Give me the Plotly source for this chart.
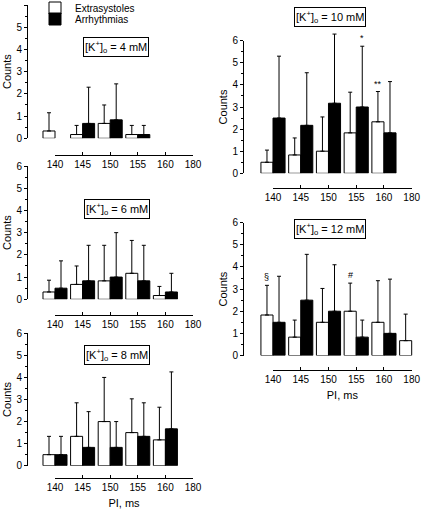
import plotly.graph_objects as go

W, H = 421, 509

cats = ["140", "145", "150", "155", "160", "180"]

k4_extra = [0.33, 0.17, 0.67, 0.17, None, None]
k4_extra_sd = [0.82, 0.41, 0.83, 0.41, None, None]
k4_arr = [None, 0.67, 0.83, 0.17, None, None]
k4_arr_sd = [None, 1.63, 1.62, 0.41, None, None]

k6_extra = [0.33, 0.67, 0.83, 1.17, 0.17, None]
k6_extra_sd = [0.53, 0.83, 1.6, 1.48, 0.41, None]
k6_arr = [0.5, 0.83, 1.0, 0.83, 0.33, None]
k6_arr_sd = [1.23, 1.6, 2.0, 1.6, 0.84, None]

k8_extra = [0.5, 1.33, 2.0, 1.5, 1.17, None]
k8_extra_sd = [0.83, 1.52, 2.0, 1.53, 1.48, None]
k8_arr = [0.5, 0.83, 0.83, 1.33, 1.67, None]
k8_arr_sd = [0.83, 1.62, 1.17, 1.52, 2.58, None]

k10_extra = [0.5, 0.83, 1.0, 1.83, 2.33, None]
k10_extra_sd = [0.55, 0.77, 1.55, 1.84, 1.37, None]
k10_arr = [2.5, 2.17, 3.17, 3.0, 1.83, None]
k10_arr_sd = [2.8, 2.38, 3.13, 2.75, 2.32, None]

k12_extra = [1.83, 0.83, 1.5, 2.0, 1.5, 0.67]
k12_extra_sd = [1.34, 0.77, 1.53, 1.27, 1.88, 1.2]
k12_arr = [1.5, 2.5, 2.0, 0.83, 1.0, None]
k12_arr_sd = [2.08, 2.07, 2.1, 0.77, 2.45, None]

conc_labels = ["4", "6", "8", "10", "12"]
# significance marks: (panel, series, category, symbol)
marks = [(3, "arr", "155", "*"), (3, "extra", "160", "**"),
         (4, "extra", "140", "§"), (4, "extra", "155", "#")]

panels = [
    (k4_extra, k4_extra_sd, k4_arr, k4_arr_sd),
    (k6_extra, k6_extra_sd, k6_arr, k6_arr_sd),
    (k8_extra, k8_extra_sd, k8_arr, k8_arr_sd),
    (k10_extra, k10_extra_sd, k10_arr, k10_arr_sd),
    (k12_extra, k12_extra_sd, k12_arr, k12_arr_sd),
]

# layout geometry in pixels
geom = [
    (27, 55, 193, 208, 5, 138.3, 155, 116.5, 47, False),
    (27, 55, 193, 208, 166, 299.3, 315, 117, 208.5, False),
    (27, 55, 193, 208, 333.3, 465.7, 477.7, 117, 354.5, True),
    (243, 273, 411.7, 420, 40.7, 173.3, 188, 329.5, 17, False),
    (243, 273, 411.7, 420, 222.7, 355.5, 370, 330, 229.5, True),
]

FONT = "Arial, Liberation Sans, sans-serif"
bargap = 0.13
YMAX = 6
YHEAD = 0.6  # extra headroom above the drawn axis so tall error bars are not clipped

def px(x):
    return x / W

def py(y):
    return 1 - y / H

fig = go.Figure()
layout = {}
annotations = []
n = len(cats)
pos = list(range(n))
np_ = len(panels)

for i, ((ex, exsd, ar, arsd), g) in enumerate(zip(panels, geom)):
    yax_x, x0, x5, xr, ytop, ybot, xline, tcx, tcy, show_title = g
    bx = i + 1
    lx = i + 1 + np_
    yi = i + 1
    vy = i + 1 + np_
    xa = "x" if bx == 1 else f"x{bx}"
    ya = "y" if yi == 1 else f"y{yi}"
    first = i == 0
    fig.add_trace(go.Bar(
        x=pos, y=ex, name="Extrasystoles", xaxis=xa, yaxis=ya,
        marker=dict(color="white", line=dict(color="black", width=1)),
        error_y=dict(type="data", array=exsd, symmetric=False, arrayminus=[0] * n,
                     color="black", thickness=1, width=2),
        showlegend=first, legend="legend", hoverinfo="skip",
    ))
    fig.add_trace(go.Bar(
        x=pos, y=ar, name="Arrhythmias", xaxis=xa, yaxis=ya,
        marker=dict(color="black", line=dict(color="black", width=1)),
        error_y=dict(type="data", array=arsd, symmetric=False, arrayminus=[0] * n,
                     color="black", thickness=1, width=2),
        showlegend=first, legend="legend2", hoverinfo="skip",
    ))
    sp = (x5 - x0) / (n - 1)
    r0 = -(x0 - yax_x) / sp
    r1 = (n - 1) + (xr - x5) / sp
    unit = (ybot - ytop) / YMAX
    top_px = max(0.0, ytop - YHEAD * unit)
    head = (ytop - top_px) / unit
    layout[f"xaxis{bx}" if bx > 1 else "xaxis"] = dict(
        domain=[px(yax_x), px(xr)], range=[r0, r1], type="linear",
        anchor=ya, visible=False, showgrid=False, zeroline=False, automargin=False,
    )
    # data y axis (hidden, with headroom)
    layout[f"yaxis{yi}" if yi > 1 else "yaxis"] = dict(
        domain=[py(ybot), py(top_px)], range=[0, YMAX + head], anchor=xa,
        visible=False, showgrid=False, zeroline=False, automargin=False,
    )
    # drawn y axis
    layout[f"yaxis{vy}"] = dict(
        domain=[py(ybot), py(ytop)], range=[0, YMAX], anchor="free", position=px(yax_x),
        side="left",
        dtick=1, tick0=0, ticks="outside", ticklen=3, tickwidth=1, tickcolor="black",
        minor=dict(dtick=0.5, tick0=0, ticks="outside", ticklen=2, tickcolor="black"),
        showline=True, linecolor="black", linewidth=1,
        showgrid=False, zeroline=False, automargin=False,
        tickfont=dict(size=10, color="black", family=FONT),
        title=dict(text="Counts", font=dict(size=11, color="black", family=FONT), standoff=1),
    )
    # drawn x axis
    layout[f"xaxis{lx}"] = dict(
        domain=[px(x0), px(x5)], range=[0, n - 1], type="linear",
        tickmode="array", tickvals=pos, ticktext=cats,
        anchor="free", position=py(xline),
        ticks="inside", ticklen=3, tickwidth=1, tickcolor="black",
        showline=True, linecolor="black", linewidth=1,
        showgrid=False, zeroline=False, automargin=False,
        tickfont=dict(size=10, color="black", family=FONT),
        title=dict(text="PI, ms" if show_title else "",
                   font=dict(size=11, color="black", family=FONT), standoff=7),
    )
    annotations.append(dict(
        text=f"[K<sup>+</sup>]<sub>o</sub> = {conc_labels[i]} mM",
        xref="paper", yref="paper", x=px(tcx), y=py(tcy),
        xanchor="center", yanchor="middle", showarrow=False,
        bordercolor="black", borderwidth=1, borderpad=1,
        font=dict(size=11, color="black", family=FONT),
    ))

# carrier traces (no visible marks) so the drawn axes exist
for i in range(np_):
    fig.add_trace(go.Scatter(x=pos, y=[None] * n, xaxis=f"x{i + 1 + np_}",
                             yaxis=f"y{i + 1 + np_}",
                             mode="lines", showlegend=False, hoverinfo="skip"))

half = (1 - bargap) / 4
for (pi, series, cat, sym) in marks:
    ex, exsd, ar, arsd = panels[pi]
    k = cats.index(cat)
    if series == "extra":
        top = ex[k] + exsd[k]
        off = -half
    else:
        top = ar[k] + arsd[k]
        off = half
    xa = "x" if pi == 0 else f"x{pi + 1}"
    ya = "y" if pi == 0 else f"y{pi + 1}"
    annotations.append(dict(
        text=sym, xref=xa, yref=ya, x=pos[k] + off, y=top, yshift=1,
        xanchor="center", yanchor="bottom", showarrow=False,
        font=dict(size=9, color="black", family=FONT),
    ))

leg_common = dict(xanchor="left", yanchor="middle", bgcolor="rgba(0,0,0,0)",
                  borderwidth=0, font=dict(size=10, family=FONT, color="black"),
                  itemwidth=30)

fig.update_layout(
    template="none",
    width=W, height=H, margin=dict(l=0, r=0, t=0, b=0, autoexpand=False),
    paper_bgcolor="white", plot_bgcolor="rgba(0,0,0,0)",
    barmode="group", bargap=bargap, bargroupgap=0,
    font=dict(family=FONT, color="black", size=10),
    showlegend=True,
    legend=dict(x=px(35), y=py(8), **leg_common),
    legend2=dict(x=px(35), y=py(19), **leg_common),
    annotations=annotations,
    **layout,
)

fig.write_html("out.html", config={"displayModeBar": False},
               post_script="document.body.style.margin='0px';")
